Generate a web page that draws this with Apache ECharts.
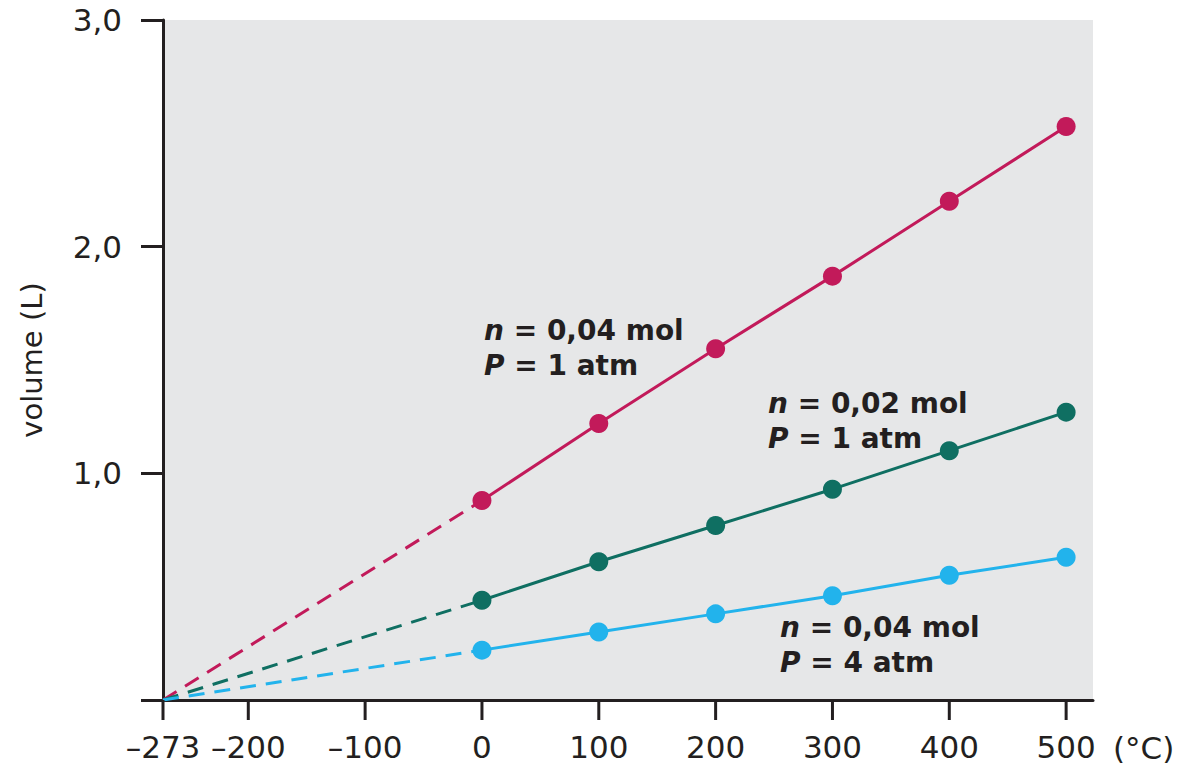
<!DOCTYPE html>
<html>
<head>
<meta charset="utf-8">
<script src="https://cdn.jsdelivr.net/npm/echarts@6/dist/echarts.min.js"></script>
<style>
html,body{margin:0;padding:0;background:#fff;}
#chart{width:1180px;height:770px;}
</style>
</head>
<body>
<div id="chart"></div>
<script>
// Data
const temperatures = [0, 100, 200, 300, 400, 500];           // °C
const volRed   = [0.88, 1.22, 1.55, 1.87, 2.20, 2.53];        // n = 0,04 mol, P = 1 atm
const volTeal  = [0.44, 0.61, 0.77, 0.93, 1.10, 1.27];        // n = 0,02 mol, P = 1 atm
const volBlue  = [0.22, 0.30, 0.38, 0.46, 0.55, 0.63];        // n = 0,04 mol, P = 4 atm
const absZero = -273;
const xTicks = [-273, -200, -100, 0, 100, 200, 300, 400, 500];
const labelRed  = ['n', ' = 0,04 mol', 'P', ' = 1 atm'];
const labelTeal = ['n', ' = 0,02 mol', 'P', ' = 1 atm'];
const labelBlue = ['n', ' = 0,04 mol', 'P', ' = 4 atm'];

const RED = '#c21a5a', TEAL = '#0f6f62', BLUE = '#22b3ec';
const FONT = '"DejaVu Sans", "Liberation Sans", sans-serif';
const INK = '#231f20';

function pairs(vals){ return temperatures.map((t,i)=>[t, vals[i]]); }
function solid(vals, color){
  return {type:'line', data:pairs(vals), symbol:'circle', symbolSize:19,
    itemStyle:{color:color}, lineStyle:{color:color, width:3}, z:3, silent:true};
}
function dashed(vals, color){
  return {type:'line', data:[[absZero,0],[0, vals[0]]], symbol:'none',
    lineStyle:{color:color, width:3, type:[16,10]}, z:2, silent:true};
}
function annot(lbl, x, y){
  return {type:'text', left:x, top:y, z:10, style:{
    text:'{i|'+lbl[0]+'}{b|'+lbl[1]+'}\n{i|'+lbl[2]+'}{b|'+lbl[3]+'}',
    rich:{
      i:{fontFamily:FONT, fontSize:28, fontWeight:'bold', fontStyle:'italic', fill:INK, lineHeight:35},
      b:{fontFamily:FONT, fontSize:28, fontWeight:'bold', fill:INK, lineHeight:35}
    }}};
}
// x-axis tick marks, placed through the axis scale
const tickSeries = {
  type:'custom', clip:false, silent:true, z:5,
  data:xTicks.map(v=>[v,0]),
  encode:{x:0, y:1},
  renderItem:function(params, api){
    const p = api.coord([api.value(0), 0]);
    return {type:'line', shape:{x1:p[0], y1:p[1], x2:p[0], y2:p[1]+20},
      style:{stroke:INK, lineWidth:3}};
  }
};

const chart = echarts.init(document.getElementById('chart'), null, {renderer:'svg'});
chart.setOption({
  animation:false,
  backgroundColor:'#ffffff',
  grid:{left:163, right:87, top:20, bottom:70, show:true, backgroundColor:'#e6e7e8', borderWidth:0},
  xAxis:{
    type:'value', min:-273, max:523,
    splitLine:{show:false},
    axisLine:{show:true, onZero:false, lineStyle:{color:INK, width:3}},
    axisTick:{show:false},
    axisLabel:{show:true, customValues:xTicks, margin:31, color:INK, fontFamily:FONT, fontSize:31,
      formatter:v=>String(v).replace('-', '\u2013')},
    name:'(°C)', nameLocation:'end', nameGap:20,
    nameTextStyle:{color:INK, fontFamily:FONT, fontSize:31, verticalAlign:'top', padding:[32,0,0,0], align:'left'}
  },
  yAxis:{
    type:'value', min:0, max:3, interval:1,
    splitLine:{show:false},
    axisLine:{show:true, onZero:false, lineStyle:{color:INK, width:3}},
    axisTick:{show:true, length:22, lineStyle:{color:INK, width:3}},
    axisLabel:{margin:41, color:INK, fontFamily:FONT, fontSize:31,
      formatter:v=> v===0 ? '' : v.toFixed(1).replace('.', ',')},
    name:'volume (L)', nameLocation:'middle', nameGap:117, nameRotate:90,
    nameTextStyle:{color:INK, fontFamily:FONT, fontSize:29}
  },
  series:[
    dashed(volRed, RED), dashed(volTeal, TEAL), dashed(volBlue, BLUE),
    solid(volRed, RED), solid(volTeal, TEAL), solid(volBlue, BLUE),
    tickSeries
  ],
  graphic:[
    annot(labelRed, 484, 316),
    annot(labelTeal, 768, 389),
    annot(labelBlue, 780, 613)
  ]
});
</script>
</body>
</html>
